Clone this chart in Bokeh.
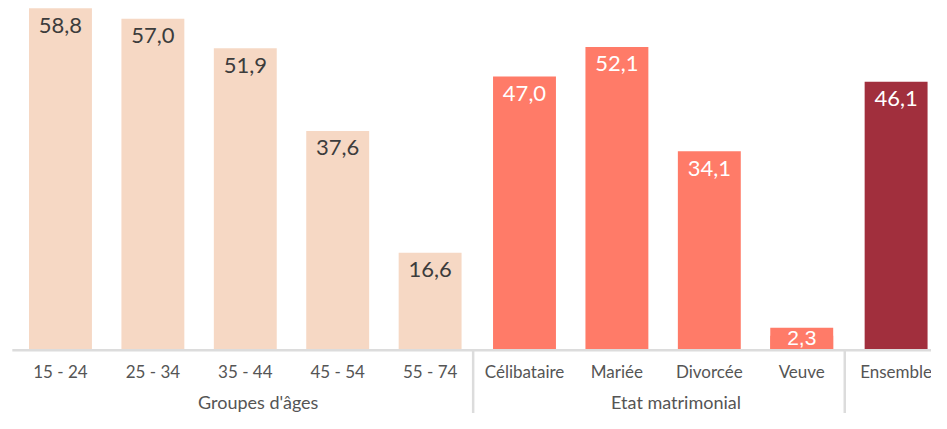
from bokeh.plotting import figure
from bokeh.models import Range1d, ColumnDataSource
from bokeh.core.properties import value
from bokeh.embed import file_html
from bokeh.resources import INLINE

# ---- data ----
groups = ["Groupes d'âges", "Etat matrimonial", ""]
group_categories = [
    ["15 - 24", "25 - 34", "35 - 44", "45 - 54", "55 - 74"],
    ["Célibataire", "Mariée", "Divorcée", "Veuve"],
    ["Ensemble"],
]
group_values = [
    [58.8, 57.0, 51.9, 37.6, 16.6],
    [47.0, 52.1, 34.1, 2.3],
    [46.1],
]
group_colors = ["#F6D8C4", "#FF7B68", "#A12F3D"]
label_colors = ["#3c3c3c", "#ffffff", "#ffffff"]

FONT = "Lato"
W, H = 931, 413
SX, SY = W / 947.0, H / 429.0
PX_UNIT = 94.0 * SX              # px per category step
GROUP_GAP = 2.0 * SX / PX_UNIT
first_px = 61.0 * SX
base_px = 362.0 * SY             # baseline from top of frame
top_px = 8.0 * SY
ymax_val = max(max(v) for v in group_values)
s = (base_px - top_px) / ymax_val      # px per unit
y_top = ymax_val + top_px / s
y_bot = -(H - base_px) / s

x_start = -first_px / PX_UNIT
x_range = Range1d(x_start, x_start + W / PX_UNIT)
y_range = Range1d(y_bot, y_top)

p = figure(width=W, height=H, x_range=x_range, y_range=y_range,
           output_backend="svg", toolbar_location=None,
           min_border=0, outline_line_color=None)
p.axis.visible = False
p.grid.visible = False
p.background_fill_color = "white"
p.border_fill_color = "white"

xs, tops, cats, fills, lcols, vlabels = [], [], [], [], [], []
group_x = []
i = 0
for g, (cl, vl) in enumerate(zip(group_categories, group_values)):
    gx = []
    for c, v in zip(cl, vl):
        x = i + g * GROUP_GAP
        xs.append(x); tops.append(v); cats.append(c)
        fills.append(group_colors[g]); lcols.append(label_colors[g])
        vlabels.append(f"{v:.1f}".replace(".", ","))
        gx.append(x)
        i += 1
    group_x.append(gx)

BAR_W = 64.0 * SX / PX_UNIT
LAB_OFF = 17.5 * SY
BOX_H = 22.0 * SY

# split labels: inside bar, or on a small box for very short bars
in_idx = [k for k, t in enumerate(tops) if t * s >= 2 * LAB_OFF]
box_idx = [k for k, t in enumerate(tops) if t * s < 2 * LAB_OFF]

src = ColumnDataSource(dict(x=xs, top=tops, cat=cats, fill=fills,
                            ty=[-23.0 * SY / s] * len(xs)))

p.vbar(x="x", top="top", bottom=0, width=BAR_W, fill_color="fill",
       line_color=None, source=src)

# label boxes for short bars
if box_idx:
    p.vbar(x=[xs[k] for k in box_idx], top=[BOX_H / s] * len(box_idx), bottom=0,
           width=BAR_W, fill_color=[fills[k] for k in box_idx], line_color=None)
    p.text(x=[xs[k] for k in box_idx], y=[BOX_H / 2 / s + 0.1] * len(box_idx),
           text=[vlabels[k] for k in box_idx],
           text_color=[lcols[k] for k in box_idx],
           text_font=value("Liberation Sans"), text_font_size="21px",
           text_align="center", text_baseline="middle")

# axis line
p.segment(x0=[-0.521], x1=[x_range.end], y0=[-1.2 / s], y1=[-1.2 / s],
          line_color="#dcdcdc", line_width=2.5)

# separators
seps = []
for g in range(len(group_x) - 1):
    seps.append((group_x[g][-1] + group_x[g + 1][0]) / 2 - 0.045)
p.segment(x0=seps, x1=seps, y0=[-1.2 / s] * len(seps), y1=[y_bot] * len(seps),
          line_color="#dcdcdc", line_width=2.5)

# value labels inside bars
p.text(x=[xs[k] for k in in_idx], y=[tops[k] - LAB_OFF / s for k in in_idx],
       text=[vlabels[k] for k in in_idx], text_color=[lcols[k] for k in in_idx],
       text_font=value(FONT), text_font_size="22px",
       text_align="center", text_baseline="middle")

# category labels
p.text(x="x", y="ty", text="cat", source=src, text_color="#555555",
       text_font=value(FONT), text_font_size="17px",
       text_align="center", text_baseline="middle")

# group labels
gl_x, gl_t = [], []
for g, gx in enumerate(group_x):
    if groups[g]:
        gl_x.append(sum(gx) / len(gx) + 0.14)
        gl_t.append(groups[g])
p.text(x=gl_x, y=[-55.0 * SY / s] * len(gl_x), text=gl_t, text_color="#555555",
       text_font=value(FONT), text_font_size="18px",
       text_align="center", text_baseline="middle")

open("out.html", "w").write(file_html(p, INLINE))
